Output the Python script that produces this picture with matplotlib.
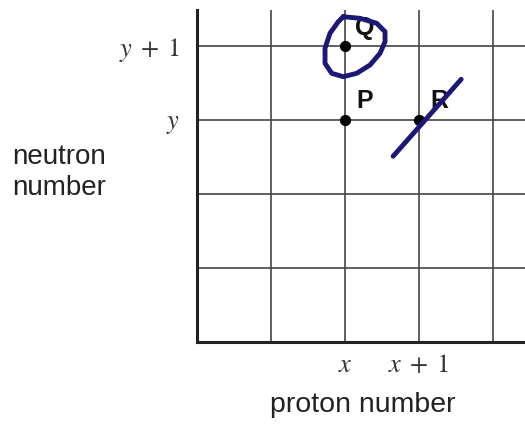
import matplotlib
matplotlib.use("Agg")
import matplotlib.pyplot as plt

plt.rcParams["mathtext.fontset"] = "stix"
plt.rcParams["font.family"] = ["Liberation Sans", "DejaVu Sans"]

# Nuclides on a proton/neutron grid (grid units; x sits at column 2, y at row 3)
names = ["Q", "P", "R"]
proton = [2, 2, 3]
neutron = [4, 3, 3]

xtick_pos = [2, 3]
xtick_labels = [r"$x$", r"$x\;+\;1$"]
ytick_pos = [3, 4]
ytick_labels = [r"$y$", r"$y\;+\;1$"]

grid_cols = [1, 2, 3, 4]
grid_rows = [1, 2, 3, 4]

# Pen strokes drawn over the figure (grid units)
loop_x = [1.977, 2.203, 2.428, 2.541, 2.541, 2.473, 2.338, 2.158, 1.977,
          1.820, 1.730, 1.730, 1.797, 1.909, 1.977]
loop_y = [4.396, 4.374, 4.307, 4.193, 4.058, 3.901, 3.743, 3.631, 3.585,
          3.631, 3.766, 3.969, 4.172, 4.328, 4.396]
slash_x = [2.65, 3.57]
slash_y = [2.51, 3.55]
ink = "#1b1878"

fig = plt.figure(figsize=(5.25, 4.25), dpi=100)
ax = fig.add_axes([197 / 525, 83 / 425, 328 / 525, 332 / 425])
ax.set_xlim(0, 328 / 74)
ax.set_ylim(0, 332 / 74)

for c in grid_cols:
    ax.axvline(c, color="#444444", lw=1.2, zorder=1)
for r in grid_rows:
    ax.axhline(r, color="#444444", lw=1.2, zorder=1)

for s in ["top", "right"]:
    ax.spines[s].set_visible(False)
for s in ["left", "bottom"]:
    ax.spines[s].set_linewidth(2.2)
    ax.spines[s].set_color("#222222")

ax.set_xticks(xtick_pos)
ax.set_xticklabels(xtick_labels, fontsize=19)
ax.set_yticks(ytick_pos)
ax.set_yticklabels(ytick_labels, fontsize=19)
ax.tick_params(length=0, colors="#333333")
ax.tick_params(axis="x", pad=8)
ax.tick_params(axis="y", pad=12)

ax.scatter(proton, neutron, s=50, color="black", zorder=3)
for n, px, ny in zip(names, proton, neutron):
    ax.text(px + 0.27, ny + 0.25, n, fontsize=18, fontweight="bold",
            ha="center", va="center", color="#111111", zorder=4)

ax.plot(loop_x, loop_y, color=ink, lw=3.5, solid_capstyle="round",
        solid_joinstyle="round", zorder=5, clip_on=False)
ax.plot(slash_x, slash_y, color=ink, lw=3.5, solid_capstyle="round", zorder=5)

fig.text(12 / 525, 1 - 172 / 425, "neutron\nnumber", fontsize=20,
         ha="left", va="center", linespacing=1.25, color="#222222")
fig.text(363 / 525, 1 - 405 / 425, "proton number", fontsize=20.5,
         ha="center", va="center", color="#222222")

fig.savefig("out.png", dpi=100)
